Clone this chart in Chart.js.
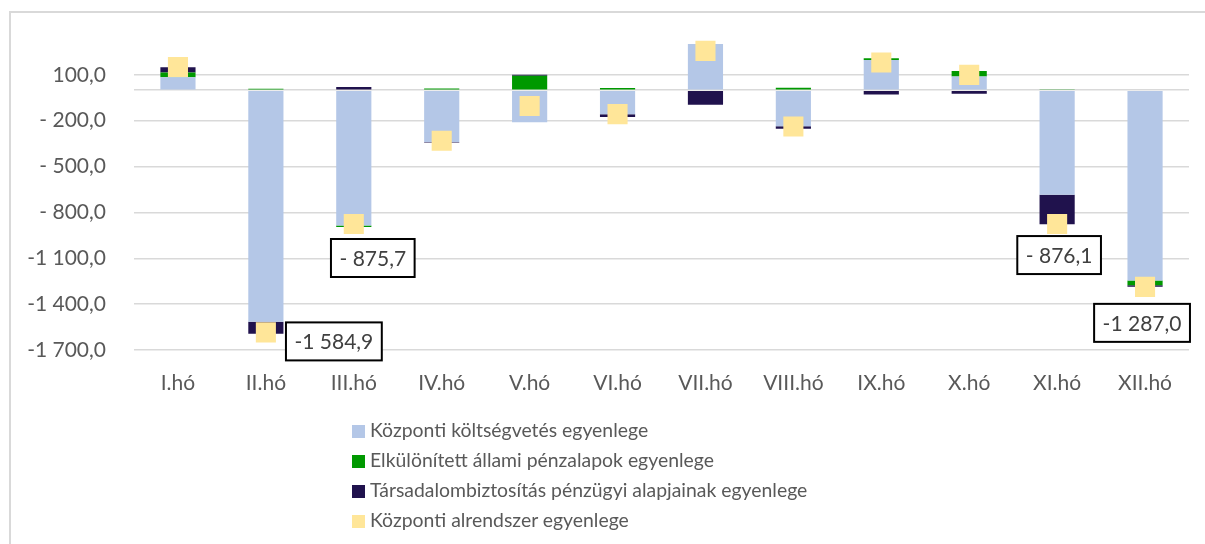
<!DOCTYPE html>
<html lang="hu">
<head>
<meta charset="utf-8">
<script src="https://cdn.jsdelivr.net/npm/chart.js@4"></script>
<style>
  html, body { margin: 0; padding: 0; background: #fff; }
  #wrap { position: relative; width: 1205px; height: 544px; overflow: hidden; }
  #frame { position: absolute; left: 9px; top: 11px; width: 1300px; height: 700px;
           border-left: 2px solid #d9d9d9; border-top: 2px solid #d9d9d9; }
  #chart { position: absolute; left: 0; top: 0; }
  #legend { position: absolute; left: 352px; top: 415px; font-family: Lato, sans-serif;
            font-size: 19.4px; color: #595959; }
  #legend div { height: 30px; line-height: 30px; white-space: nowrap; }
  #legend span { display: inline-block; width: 13px; height: 13px; margin-right: 5px; vertical-align: -1px; }
</style>
</head>
<body>
<div id="wrap">
  <div id="frame"></div>
  <canvas id="chart" width="1205" height="544"></canvas>
  <div id="legend"></div>
</div>
<script>
// adatok (md Ft)
const months = ['I.hó', 'II.hó', 'III.hó', 'IV.hó', 'V.hó', 'VI.hó', 'VII.hó', 'VIII.hó', 'IX.hó', 'X.hó', 'XI.hó', 'XII.hó'];
const kozpontiKoltsegvetes = [85, -1515.0, -885.0, -340, -210, -158, 302, -236, 198, 89, -685, -1245];
const elkulonitettAlapok = [30, 8.3, -10.5, 11, 94, 14, 0, 15, 10, 37, 2, -31];
const tarsadalombiztositas = [35, -78.2, 19.8, -2, 6, -17, -96, -17, -29, -24, -193.1, -11];
const kozpontiAlrendszer = [151, -1584.9, -875.7, -331, -104, -157, 257, -238, 181, 100, -876.1, -1287.0];
const yTicks = [-1700, -1400, -1100, -800, -500, -200, 100, 0];

const seriesNames = [
    'Központi költségvetés egyenlege',
    'Elkülönített állami pénzalapok egyenlege',
    'Társadalombiztosítás pénzügyi alapjainak egyenlege',
    'Központi alrendszer egyenlege'
];
const colors = ['#B4C7E7', '#009900', '#20124D', '#FFE699'];

// címkék helye a jelölőhöz képest
const labelOffsets = { 1: [68, 9], 2: [19, 34], 10: [2, 31], 11: [-3, 36] };

function fmt(v) {
    const s = Math.abs(v).toFixed(1).split('.');
    const ip = s[0];
    const th = ip.length > 3 ? ip.slice(0, -3) : '';
    return (v < 0 ? '-' : '') + th + ' ' + ip.slice(-3) + ',' + s[1];
}

const labelBoxes = {
    id: 'labelBoxes',
    afterDatasetsDraw(chart) {
        const meta = chart.getDatasetMeta(3);
        const ctx = chart.ctx;
        ctx.save();
        ctx.font = '21px Lato, sans-serif';
        ctx.textAlign = 'center';
        ctx.textBaseline = 'middle';
        Object.keys(labelOffsets).forEach(k => {
            const i = +k;
            const pt = meta.data[i];
            const txt = fmt(kozpontiAlrendszer[i]);
            const w = ctx.measureText(txt).width + 17;
            const h = 38;
            const cx = pt.x + labelOffsets[k][0];
            const cy = pt.y + labelOffsets[k][1];
            ctx.fillStyle = '#fff';
            ctx.fillRect(cx - w / 2, cy - h / 2, w, h);
            ctx.lineWidth = 2;
            ctx.strokeStyle = '#000';
            ctx.strokeRect(cx - w / 2, cy - h / 2, w, h);
            ctx.fillStyle = '#404040';
            ctx.fillText(txt, cx, cy + 1);
        });
        ctx.restore();
    }
};

const barData = [kozpontiKoltsegvetes, elkulonitettAlapok, tarsadalombiztositas];
const datasets = barData.map((d, i) => ({
    type: 'bar',
    label: seriesNames[i],
    data: d,
    backgroundColor: colors[i],
    borderWidth: 0,
    stack: 'egyenleg',
    order: 1,
    barPercentage: 0.4,
    categoryPercentage: 1
}));
datasets.push({
    type: 'line',
    label: seriesNames[3],
    data: kozpontiAlrendszer,
    showLine: false,
    pointStyle: 'rect',
    pointRadius: 14.2,
    pointBackgroundColor: colors[3],
    pointBorderWidth: 0,
    stack: 'osszes',
    order: 0
});

new Chart(document.getElementById('chart'), {
    data: { labels: months, datasets: datasets },
    plugins: [labelBoxes],
    options: {
        responsive: false,
        animation: false,
        devicePixelRatio: 1,
        layout: { padding: { left: 0, right: 16, top: 29, bottom: 144 } },
        plugins: { legend: { display: false }, tooltip: { enabled: false } },
        scales: {
            x: {
                stacked: true,
                grid: { display: false },
                border: { display: false },
                ticks: { color: '#595959', font: { family: 'Lato', size: 21 }, padding: 13, maxRotation: 0 },
                afterFit: s => { s.height = 50; }
            },
            y: {
                stacked: true,
                min: -1700,
                max: 400,
                border: { display: false },
                grid: { color: '#d9d9d9', lineWidth: 1.5, drawTicks: false },
                afterBuildTicks: s => { s.ticks = yTicks.map(v => ({ value: v })); },
                afterFit: s => {
                    s.width = 134;
                    s.paddingTop = 0;
                    s.paddingBottom = 0;
                },
                ticks: {
                    color: '#595959',
                    font: { family: 'Lato', size: 21 },
                    padding: 28,
                    callback: v => (v === 0 ? '' : fmt(v))
                }
            }
        }
    }
});

// jelmagyarázat
const legend = document.getElementById('legend');
seriesNames.forEach((name, i) => {
    const row = document.createElement('div');
    const sw = document.createElement('span');
    sw.style.background = colors[i];
    row.appendChild(sw);
    row.appendChild(document.createTextNode(name));
    legend.appendChild(row);
});
</script>
</body>
</html>
